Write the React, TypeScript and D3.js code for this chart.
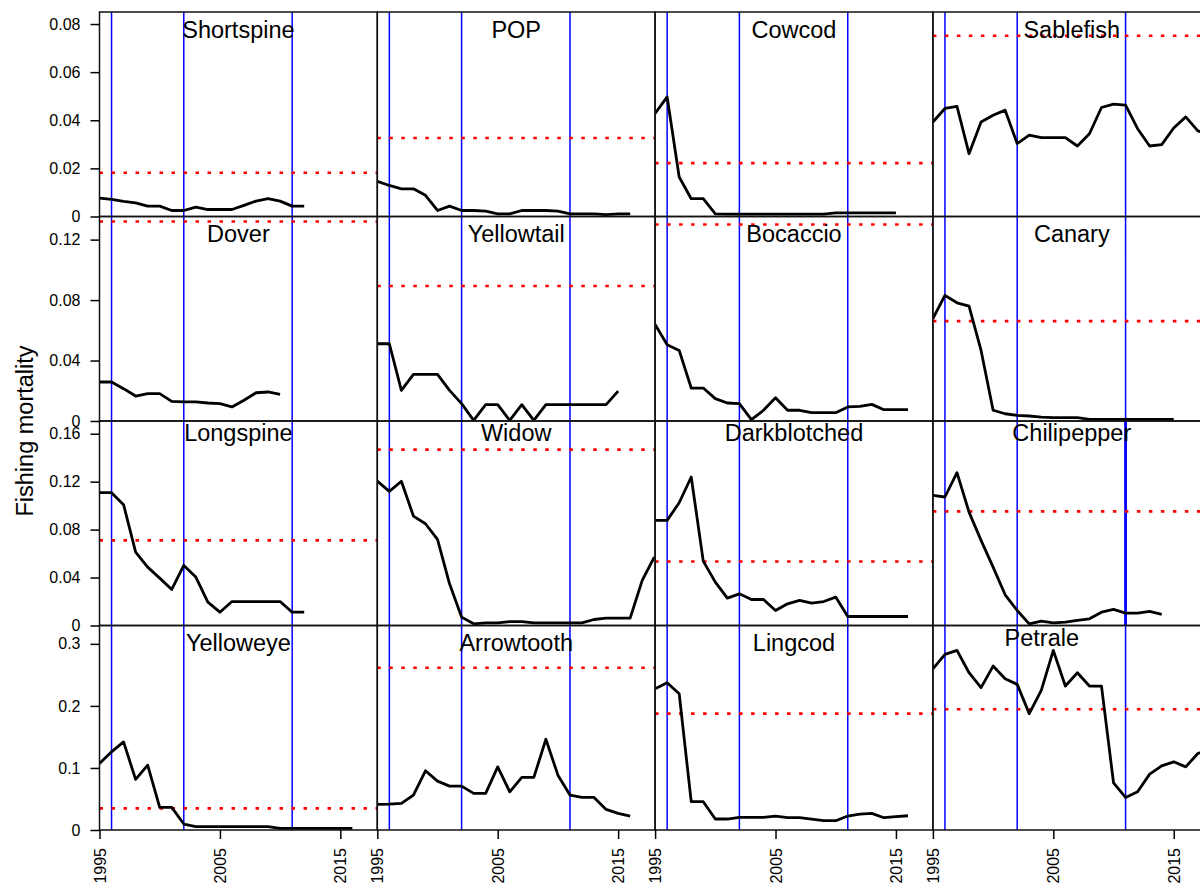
import React, { useEffect, useMemo, useRef } from "react";
import * as d3 from "d3";

const LEFT = 99.5;
const TOP = 12;
const PW = 277.8;
const PH = 204.5;
const FONT = "'Liberation Sans', Arial, sans-serif";

const species = [
  "Shortspine", "POP", "Cowcod", "Sablefish",
  "Dover", "Yellowtail", "Bocaccio", "Canary",
  "Longspine", "Widow", "Darkblotched", "Chilipepper",
  "Yelloweye", "Arrowtooth", "Lingcod", "Petrale",
];

const startYear = 1995;

// fishing mortality by year, starting 1995
const shortspine = [0.0076, 0.0071, 0.0063, 0.0057, 0.0043, 0.0043, 0.0025, 0.0025, 0.0039, 0.0029, 0.0029, 0.0029, 0.0046, 0.0064, 0.0074, 0.0064, 0.0043, 0.0043];
const pop = [0.0146, 0.0129, 0.0115, 0.0115, 0.0088, 0.0025, 0.0043, 0.0025, 0.0025, 0.0022, 0.0011, 0.0011, 0.0025, 0.0025, 0.0025, 0.0022, 0.0011, 0.0011, 0.0011, 0.0008, 0.0011, 0.0011];
const cowcod = [0.0428, 0.0497, 0.0164, 0.0074, 0.0074, 0.0011, 0.001, 0.001, 0.001, 0.001, 0.001, 0.001, 0.001, 0.001, 0.001, 0.0015, 0.0015, 0.0015, 0.0015, 0.0015, 0.0015];
const sablefish = [0.0393, 0.0449, 0.0458, 0.0261, 0.0393, 0.0421, 0.0442, 0.0303, 0.0338, 0.0328, 0.0328, 0.0328, 0.0293, 0.0344, 0.0453, 0.0467, 0.0463, 0.0365, 0.0293, 0.0299, 0.0368, 0.0414, 0.0356, 0.034];
const dover = [0.0258, 0.0258, 0.0214, 0.0165, 0.0181, 0.0181, 0.013, 0.0126, 0.0126, 0.0119, 0.0115, 0.0093, 0.0137, 0.0187, 0.0192, 0.0176];
const yellowtail = [0.0511, 0.0511, 0.0203, 0.0309, 0.0309, 0.0309, 0.0203, 0.0115, 0.0004, 0.0108, 0.0108, 0.0004, 0.0108, 0.0004, 0.0108, 0.0108, 0.0108, 0.0108, 0.0108, 0.0108, 0.0198];
const bocaccio = [0.0639, 0.0505, 0.0467, 0.0218, 0.0218, 0.0148, 0.0119, 0.0115, 0.0009, 0.0071, 0.0154, 0.0071, 0.0071, 0.0055, 0.0055, 0.0055, 0.0093, 0.0097, 0.011, 0.0075, 0.0075, 0.0075];
const canary = [0.0677, 0.0831, 0.0782, 0.076, 0.0467, 0.0071, 0.0048, 0.0037, 0.0033, 0.0026, 0.0022, 0.0022, 0.0022, 0.0011, 0.0011, 0.0011, 0.0011, 0.0011, 0.0011, 0.0011, 0.0011];
const longspine = [0.1108, 0.1108, 0.1008, 0.0612, 0.0487, 0.0395, 0.0301, 0.0501, 0.0404, 0.0195, 0.0111, 0.02, 0.02, 0.02, 0.02, 0.02, 0.0111, 0.0111];
const widow = [0.1205, 0.1119, 0.1203, 0.0913, 0.0849, 0.0718, 0.0348, 0.007, 0.0014, 0.0022, 0.0022, 0.0033, 0.0033, 0.0022, 0.0022, 0.0022, 0.0022, 0.0022, 0.005, 0.0061, 0.0061, 0.0061, 0.0376, 0.057];
const darkblotched = [0.0877, 0.0877, 0.1024, 0.1239, 0.0537, 0.0362, 0.0228, 0.0264, 0.0217, 0.0217, 0.0125, 0.0181, 0.0209, 0.0186, 0.02, 0.0237, 0.0075, 0.0075, 0.0075, 0.0075, 0.0075, 0.0075];
const chilipepper = [0.1086, 0.1072, 0.1275, 0.0946, 0.071, 0.0487, 0.0256, 0.0125, 0.0014, 0.0036, 0.0022, 0.0028, 0.0042, 0.0056, 0.0111, 0.0134, 0.0103, 0.0103, 0.0117, 0.0092];
const yelloweye = [0.1072, 0.126, 0.142, 0.0815, 0.1045, 0.0364, 0.0364, 0.0096, 0.0054, 0.0054, 0.0054, 0.0054, 0.0054, 0.0054, 0.0054, 0.0027, 0.0027, 0.0027, 0.0027, 0.0027, 0.0027, 0.0027];
const arrowtooth = [0.0413, 0.0418, 0.0429, 0.0563, 0.0954, 0.0788, 0.0707, 0.0707, 0.059, 0.059, 0.1018, 0.0616, 0.0847, 0.0847, 0.1463, 0.0884, 0.0563, 0.0525, 0.0525, 0.0332, 0.0268, 0.0225];
const lingcod = [0.2278, 0.2374, 0.2197, 0.0456, 0.0456, 0.0177, 0.0177, 0.0204, 0.0204, 0.0204, 0.0225, 0.0198, 0.0198, 0.0177, 0.015, 0.015, 0.0225, 0.0257, 0.0268, 0.0198, 0.0214, 0.023];
const petrale = [0.2599, 0.283, 0.2894, 0.2535, 0.2294, 0.2642, 0.2438, 0.2347, 0.1876, 0.2251, 0.2894, 0.232, 0.2535, 0.232, 0.232, 0.0761, 0.0525, 0.0616, 0.09, 0.1034, 0.1099, 0.1018, 0.1233, 0.13];

const seriesF = [
  shortspine, pop, cowcod, sablefish,
  dover, yellowtail, bocaccio, canary,
  longspine, widow, darkblotched, chilipepper,
  yelloweye, arrowtooth, lingcod, petrale,
];

// reference F (red dotted)
const refF = [0.0182, 0.0326, 0.0222, 0.0751, 0.132, 0.0893, 0.130, 0.0661, 0.071, 0.1467, 0.0534, 0.0952, 0.0348, 0.2615, 0.1876, 0.1945];

const markerYears = [1996, 2002, 2011];

const rowMax = [0.085, 0.1353, 0.1706, 0.3296];
const rowTicks = [
  [0, 0.02, 0.04, 0.06, 0.08],
  [0, 0.04, 0.08, 0.12],
  [0, 0.04, 0.08, 0.12, 0.16],
  [0, 0.1, 0.2, 0.3],
];
const yearTicks = [1995, 2005, 2015];

// title nudges (legend placement in the original)
const titleOffset: Record<string, [number, number]> = {
  Longspine: [0, 19.5], Widow: [0, 19.5], Darkblotched: [0, 19.5], Chilipepper: [0, 19.5],
  Petrale: [-30, 20],
};

export default function App() {
  const axesRef = useRef<SVGGElement>(null);

  const xScale = useMemo(
    () => d3.scaleLinear().domain([1995, 2018.07]).range([0, PW]),
    []
  );
  const yScales = useMemo(
    () => rowMax.map((m) => d3.scaleLinear().domain([0, m]).range([PH, 0])),
    []
  );

  useEffect(() => {
    const g = d3.select(axesRef.current);
    g.selectAll("*").remove();

    yScales.forEach((ys, r) => {
      const ax = g
        .append("g")
        .attr("transform", `translate(${LEFT},${TOP + r * PH})`)
        .call(
          d3
            .axisLeft(ys)
            .tickValues(rowTicks[r])
            .tickSize(9)
            .tickPadding(10)
            .tickFormat((d: any) => (d === 0 ? "0" : String(d)))
        );
      ax.select(".domain").remove();
      ax.selectAll("line").attr("stroke", "#000").attr("stroke-width", 1.5);
      ax.selectAll("text")
        .attr("fill", "#000")
        .style("font-size", "16px")
        .style("font-family", FONT);
    });

    for (let c = 0; c < 4; c++) {
      const ax = g
        .append("g")
        .attr("transform", `translate(${LEFT + c * PW},${TOP + 4 * PH})`)
        .call(d3.axisBottom(xScale).tickValues(yearTicks).tickSize(9).tickFormat(d3.format("d")));
      ax.select(".domain").remove();
      ax.selectAll("line").attr("stroke", "#000").attr("stroke-width", 1.5);
      ax.selectAll("text")
        .attr("fill", "#000")
        .attr("transform", "rotate(-90)")
        .attr("x", -18)
        .attr("y", 0)
        .attr("dy", "0.35em")
        .style("text-anchor", "end")
        .style("font-size", "16px")
        .style("font-family", FONT);
    }
  }, [xScale, yScales]);

  const line = (ys: d3.ScaleLinear<number, number>) =>
    d3
      .line<number>()
      .x((_, i) => xScale(startYear + i))
      .y((v) => ys(v));

  return (
    <svg
      width={1200}
      height={886}
      style={{ position: "absolute", left: 0, top: 0, background: "#fff" }}
    >
      <defs>
        {species.map((s, k) => (
          <clipPath id={`clip${k}`} key={s}>
            <rect width={PW} height={PH} />
          </clipPath>
        ))}
      </defs>
      <rect width={1200} height={886} fill="#fff" />
      {species.map((s, k) => {
        const r = Math.floor(k / 4);
        const c = k % 4;
        const ys = yScales[r];
        const [dx, dy] = titleOffset[s] || [0, 25.5];
        return (
          <g key={s} transform={`translate(${LEFT + c * PW},${TOP + r * PH})`}>
            <g clipPath={`url(#clip${k})`}>
              {markerYears.map((yr) => (
                <line
                  key={yr}
                  x1={xScale(yr)}
                  x2={xScale(yr)}
                  y1={0}
                  y2={PH}
                  stroke="#0000ff"
                  strokeWidth={s === "Chilipepper" && yr === 2011 ? 2.8 : 1.5}
                />
              ))}
              <line
                x1={0}
                x2={PW}
                y1={ys(refF[k])}
                y2={ys(refF[k])}
                stroke="#ff0000"
                strokeWidth={2.6}
                strokeDasharray="3.5 8.5"
              />
              <path
                d={line(ys)(seriesF[k]) || ""}
                fill="none"
                stroke="#000"
                strokeWidth={2.8}
                strokeLinejoin="round"
              />
            </g>
            <text
              x={PW / 2 + dx}
              y={dy}
              textAnchor="middle"
              fontSize={23.5}
              fontFamily={FONT}
              fill="#000"
            >
              {s}
            </text>
            <rect width={PW} height={PH} fill="none" stroke="#111" strokeWidth={1.5} />
          </g>
        );
      })}
      <g ref={axesRef} />
      <text
        transform={`translate(33,${TOP + 2 * PH + 10}) rotate(-90)`}
        textAnchor="middle"
        fontSize={23.5}
        fontFamily={FONT}
        fill="#000"
      >
        Fishing mortality
      </text>
    </svg>
  );
}
